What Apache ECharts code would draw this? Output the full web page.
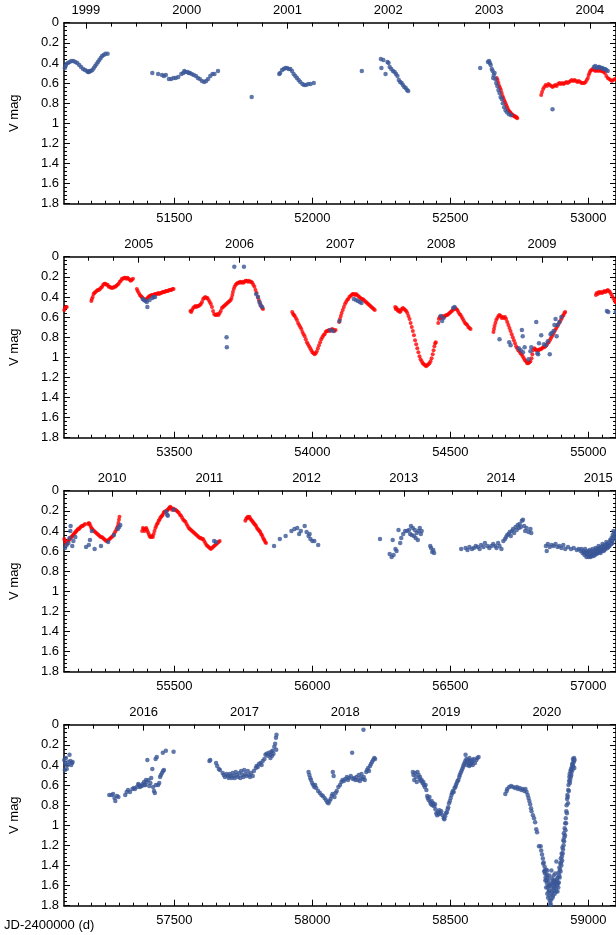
<!DOCTYPE html>
<html>
<head>
<meta charset="utf-8">
<script src="https://cdn.jsdelivr.net/npm/echarts@6/dist/echarts.min.js"></script>
<style>
  html, body { margin: 0; padding: 0; background: #ffffff; overflow: hidden; }
  #chart { width: 616px; height: 935px; }
</style>
</head>
<body>
<div id="chart"></div>
<script>
// ---- Light curve: V magnitude vs. JD-2400000, blue and red observation sets ----

// Panel windows (JD-2400000) and axis labelling
const panelStarts = [51100, 53100, 55100, 57100];
const panelSpan = 2000;
const jdTickLabels = [51500, 52000, 52500, 53000, 53500, 54000, 54500, 55000,
                      55500, 56000, 56500, 57000, 57500, 58000, 58500, 59000];
const magTicks = [0, 0.2, 0.4, 0.6, 0.8, 1, 1.2, 1.4, 1.6, 1.8];
const yearLabels = ['1999', '2000', '2001', '2002', '2003', '2004', '2005', '2006', '2007', '2008', '2009',
                    '2010', '2011', '2012', '2013', '2014', '2015', '2016', '2017', '2018', '2019', '2020'];
// Upper (calendar) axis extent of each panel, in decimal years
const yearAxisMin = [1998.783, 2004.259, 2009.505, 2015.210];
const yearAxisMax = [2004.259, 2009.735, 2015.182, 2020.686];

// ---- Blue observations [JD-2400000, V] ----
const blue1999 = [[51103,0.45],[51106,0.43],[51108,0.41],[51114,0.40],[51120,0.39],[51127,0.38],[51134,0.38],[51141,0.39],
  [51148,0.40],[51155,0.42],[51162,0.44],[51169,0.46],[51176,0.47],[51183,0.48],[51187,0.49],[51190,0.49],[51194,0.48],
  [51197,0.48],[51203,0.47],[51208,0.45],[51213,0.43],[51218,0.41],[51223,0.39],[51228,0.37],[51233,0.35],[51238,0.33],
  [51244,0.32],[51250,0.31],[51258,0.31]];
const blue2000 = [[51420,0.50],[51441,0.51],[51455,0.52],[51462,0.53],[51469,0.52],[51480,0.56],[51488,0.56],[51497,0.55],
  [51505,0.55],[51514,0.54],[51525,0.51],[51532,0.50],[51536,0.48],[51540,0.49],[51548,0.49],[51552,0.50],[51556,0.50],
  [51563,0.51],[51570,0.52],[51578,0.53],[51585,0.55],[51592,0.56],[51600,0.58],[51608,0.59],[51615,0.58],[51622,0.56],
  [51630,0.53],[51638,0.51],[51645,0.51],[51658,0.48],[51780,0.74]];
const blue2001 = [[51880,0.51],[51883,0.50],[51890,0.47],[51896,0.46],[51902,0.45],[51908,0.45],[51914,0.46],[51920,0.46],
  [51926,0.48],[51932,0.51],[51938,0.53],[51944,0.55],[51950,0.57],[51956,0.59],[51964,0.61],[51970,0.62],[51977,0.62],
  [51985,0.61],[51993,0.61],[52005,0.60]];
const blue2002 = [[52179,0.48],[52248,0.36],[52250,0.45],[52257,0.37],[52265,0.51],[52272,0.39],[52276,0.40],[52280,0.44],
  [52286,0.46],[52292,0.48],[52298,0.49],[52303,0.51],[52308,0.53],[52313,0.57],[52318,0.59],[52323,0.60],[52328,0.62],
  [52333,0.64],[52338,0.65],[52343,0.67],[52347,0.68]];
const blue2003 = [[52608,0.45],[52636,0.39],[52640,0.38],[52643,0.40],[52646,0.42],[52650,0.46],[52653,0.48],[52655,0.55],
  [52657,0.52],[52660,0.50],[52663,0.56],[52666,0.60],[52670,0.63],[52674,0.67],[52678,0.70],[52682,0.74],[52686,0.76],
  [52690,0.80],[52695,0.84],[52700,0.87],[52705,0.89],[52712,0.91],[52720,0.92],[52870,0.86]];
const blue2004 = [[53020,0.44],[53025,0.43],[53030,0.45],[53036,0.44],[53040,0.44],[53046,0.45],[53050,0.45],[53055,0.46],
  [53060,0.46],[53065,0.47],[53070,0.48]];
const blue2005 = [[53385,0.42],[53390,0.43],[53395,0.44],[53400,0.45],[53402,0.50],[53410,0.43],[53420,0.41],[53425,0.40],
  [53430,0.40]];
const blue2006 = [[53689,0.80],[53690,0.90],[53717,0.10],[53752,0.10],[53796,0.37],[53803,0.40],[53808,0.45],[53812,0.48],
  [53818,0.50],[54065,0.73],[54075,0.74]];
const blue2007 = [[54098,0.64],[54150,0.42],[54158,0.43],[54165,0.44],[54172,0.45],[54178,0.46]];
const blue2008 = [[54465,0.59],[54470,0.64],[54475,0.61],[54510,0.51],[54515,0.50],
  [54678,0.82],[54713,0.85],[54718,0.88],[54748,0.91],[54755,0.93],[54759,0.73],[54762,0.79],[54763,0.95],[54769,0.90],
  [54783,1.02],[54790,0.94],[54793,0.90],[54811,0.65],[54815,0.96],[54818,0.97],[54821,0.86],[54829,0.78],[54839,0.87],
  [54846,0.88],[54853,0.84],[54860,0.97],[54863,0.77],[54867,0.76],[54874,0.74],[54877,0.68],[54881,0.62],[54885,0.79],
  [54888,0.68],[54895,0.65],[54902,0.60]];
const blue2009 = [[55067,0.54],[55072,0.55]];
const blue2010 = [[55099,0.55],[55104,0.57],[55110,0.54],[55116,0.52],[55120,0.47],[55123,0.40],[55124,0.35],[55130,0.55],
  [55134,0.50],[55141,0.46],[55180,0.56],[55190,0.54],[55194,0.49],[55201,0.40],[55211,0.58],[55234,0.55],[55260,0.51],
  [55281,0.44],[55295,0.38],[55300,0.36],[55304,0.34],
  [55470,0.21],[55474,0.24],[55476,0.25],[55497,0.19],[55644,0.50],[55651,0.51]];
const blue2012 = [[55861,0.55],[55882,0.48],[55903,0.45],[55924,0.40],[55935,0.38],[55945,0.37],[55952,0.43],[55958,0.40],
  [55972,0.35],[55979,0.41],[55986,0.45],[55990,0.43],[55993,0.48],[56000,0.50],[56007,0.50],[56021,0.54]];
const blue2013 = [[56245,0.48],[56280,0.63],[56287,0.66],[56291,0.49],[56294,0.64],[56301,0.58],[56305,0.60],[56312,0.39],
  [56318,0.52],[56322,0.47],[56329,0.43],[56336,0.40],[56343,0.40],[56350,0.39],[56354,0.43],[56357,0.35],[56360,0.44],
  [56364,0.37],[56368,0.45],[56371,0.39],[56374,0.47],[56378,0.42],[56382,0.49],[56385,0.40],[56389,0.37],[56393,0.43],
  [56396,0.40],[56427,0.55],[56430,0.57],[56434,0.61],[56438,0.59],[56441,0.62]];
const blue2014 = [[56539,0.58],[56555,0.57],[56562,0.59],[56569,0.56],[56578,0.58],[56585,0.57],[56592,0.55],[56599,0.56],
  [56606,0.58],[56611,0.54],[56620,0.56],[56625,0.52],[56634,0.55],[56641,0.57],[56648,0.55],[56655,0.53],[56662,0.55],
  [56667,0.57],[56673,0.52],[56678,0.55],[56685,0.58],[56692,0.50],[56698,0.48],[56702,0.46],[56706,0.44],[56711,0.43],
  [56715,0.41],[56719,0.45],[56723,0.40],[56727,0.38],[56731,0.42],[56736,0.36],[56740,0.39],[56744,0.34],[56748,0.37],
  [56751,0.33],[56755,0.36],[56759,0.30],[56763,0.29],[56767,0.35],[56771,0.40],[56776,0.37],[56783,0.41],[56790,0.38],
  [56793,0.42]];
const blue2015 = [[56846,0.55],[56849,0.60],[56853,0.53],[56860,0.56],[56867,0.54],[56874,0.55],[56881,0.53],[56888,0.56],
  [56895,0.55],[56902,0.57],[56909,0.54],[56916,0.58],[56926,0.56],[56937,0.58],[56947,0.57],[56958,0.59],[56965,0.58],
  [56972,0.60],[56975,0.58],[56979,0.62],[56983,0.60],[56985,0.62],[56986,0.64],[56988,0.58],[56990,0.62],[56992,0.61],
  [56993,0.66],[56996,0.63],[56998,0.60],[57000,0.65],[57001,0.66],[57003,0.61],[57005,0.59],[57007,0.64],[57008,0.66],
  [57010,0.62],[57012,0.65],[57014,0.60],[57015,0.58],[57017,0.63],[57019,0.65],[57021,0.61],[57023,0.64],[57025,0.59],
  [57026,0.57],[57028,0.62],[57030,0.63],[57032,0.58],[57034,0.62],[57035,0.60],[57037,0.55],[57039,0.57],[57041,0.61],
  [57042,0.59],[57044,0.62],[57046,0.56],[57048,0.60],[57049,0.58],[57051,0.53],[57053,0.55],[57055,0.60],[57056,0.57],
  [57058,0.59],[57060,0.54],[57062,0.58],[57063,0.56],[57065,0.51],[57067,0.53],[57069,0.57],[57070,0.55],[57072,0.56],
  [57074,0.52],[57076,0.55],[57077,0.54],[57079,0.49],[57081,0.50],[57083,0.53],[57084,0.47],[57086,0.50],[57087,0.52],
  [57088,0.44],[57090,0.46],[57091,0.40],[57093,0.48],[57094,0.42],[57095,0.45],
  [57099,0.42],[57101,0.35],[57103,0.45],[57104,0.38],[57107,0.33],[57108,0.40],[57110,0.44],[57113,0.40],[57116,0.37],
  [57120,0.30],[57123,0.36],[57126,0.40],[57129,0.38],[57131,0.37]];
const blue2016 = [[57264,0.70],[57272,0.70],[57278,0.69],[57283,0.73],[57286,0.76],[57292,0.71],[57297,0.72],[57322,0.70],
  [57327,0.67],[57332,0.65],[57339,0.67],[57348,0.64],[57353,0.63],[57357,0.64],[57364,0.62],[57369,0.59],[57371,0.60],
  [57375,0.62],[57378,0.61],[57382,0.61],[57385,0.59],[57390,0.57],[57392,0.60],[57395,0.60],[57397,0.55],[57399,0.57],
  [57402,0.35],[57406,0.55],[57409,0.61],[57413,0.58],[57416,0.53],[57420,0.44],[57423,0.62],[57426,0.66],[57429,0.68],
  [57432,0.34],[57433,0.60],[57436,0.32],[57441,0.60],[57445,0.58],[57448,0.52],[57451,0.50],[57455,0.48],[57458,0.28],
  [57459,0.46],[57462,0.45],[57469,0.26],[57497,0.27]];
const blue2017 = [[57627,0.36],[57630,0.35],[57651,0.38],[57655,0.41],[57661,0.44],[57665,0.45],[57675,0.48],[57679,0.50],
  [57683,0.52],[57689,0.49],[57693,0.51],[57697,0.53],[57700,0.49],[57704,0.51],[57708,0.53],[57711,0.48],[57715,0.51],
  [57719,0.53],[57722,0.47],[57726,0.50],[57731,0.52],[57735,0.48],[57739,0.53],[57742,0.46],[57746,0.50],[57750,0.52],
  [57753,0.45],[57757,0.49],[57761,0.51],[57766,0.46],[57770,0.50],[57774,0.52],[57778,0.48],[57784,0.51],[57788,0.46],
  [57795,0.43],[57798,0.41],[57802,0.42],[57806,0.39],[57812,0.38],[57816,0.40],[57820,0.36],[57826,0.34],[57830,0.30],
  [57834,0.29],[57838,0.31],[57842,0.28],[57847,0.30],[57848,0.33],[57851,0.27],[57854,0.31],[57856,0.26],[57859,0.29],
  [57862,0.22],[57865,0.19],[57868,0.13],[57869,0.25],[57870,0.10]];
const blue2018 = [[57986,0.47],[57989,0.50],[57992,0.53],[57995,0.55],[57999,0.58],[58003,0.60],[58007,0.62],[58010,0.60],
  [58014,0.63],[58021,0.66],[58027,0.68],[58033,0.70],[58038,0.71],[58044,0.73],[58049,0.75],[58054,0.77],[58058,0.78],
  [58062,0.76],[58066,0.74],[58070,0.71],[58073,0.69],[58074,0.47],[58077,0.51],[58080,0.72],[58084,0.68],[58088,0.66],
  [58094,0.62],[58100,0.60],[58105,0.57],[58109,0.55],[58114,0.56],[58119,0.54],[58125,0.52],[58129,0.55],[58133,0.53],
  [58139,0.51],[58144,0.28],[58147,0.54],[58151,0.53],[58156,0.55],[58160,0.52],[58164,0.55],[58168,0.50],[58172,0.56],
  [58175,0.53],[58178,0.49],[58182,0.54],[58185,0.05],[58186,0.52],[58190,0.55],[58195,0.47],[58198,0.45],[58202,0.43],
  [58205,0.46],[58209,0.41],[58212,0.39],[58216,0.37],[58220,0.35],[58224,0.33],[58227,0.34]];
const blue2019 = [[58364,0.47],[58366,0.50],[58369,0.55],[58372,0.48],[58375,0.52],[58378,0.57],[58381,0.47],[58385,0.50],
  [58388,0.54],[58390,0.52],[58393,0.56],[58396,0.55],[58399,0.58],[58402,0.57],[58404,0.60],[58407,0.62],[58410,0.60],
  [58413,0.65],[58416,0.71],[58418,0.73],[58421,0.75],[58424,0.72],[58427,0.77],[58430,0.79],[58432,0.76],[58435,0.80],
  [58438,0.78],[58441,0.81],[58444,0.79],[58446,0.84],[58449,0.88],[58452,0.90],[58455,0.87],[58458,0.89],[58460,0.85],
  [58463,0.88],[58467,0.86],[58472,0.90],[58476,0.93],[58478,0.94],[58481,0.91],[58484,0.88],[58487,0.87],[58490,0.84],
  [58492,0.82],[58495,0.78],[58498,0.76],[58501,0.73],[58504,0.70],[58506,0.68],[58509,0.66],[58512,0.67],[58515,0.63],
  [58518,0.62],[58520,0.60],[58523,0.58],[58526,0.56],[58529,0.55],[58532,0.52],[58534,0.50],[58537,0.48],[58540,0.46],
  [58543,0.44],[58546,0.42],[58548,0.40],[58551,0.38],[58554,0.36],[58555,0.30],[58558,0.34],[58559,0.40],[58561,0.37],
  [58564,0.35],[58567,0.39],[58568,0.41],[58569,0.33],[58572,0.36],[58573,0.40],[58575,0.38],[58578,0.35],[58580,0.37],
  [58581,0.40],[58585,0.34],[58589,0.38],[58594,0.35],[58598,0.33],[58602,0.32]];
const blue2020 = [[58699,0.69],[58704,0.66],[58706,0.64],[58713,0.62],[58720,0.61],[58727,0.62],[58734,0.63],[58741,0.62],
  [58745,0.64],[58751,0.63],[58757,0.65],[58762,0.64],[58768,0.66],[58772,0.64],[58776,0.67],[58780,0.70],[58783,0.73],
  [58786,0.76],[58789,0.79],[58792,0.83],[58794,0.86],[58799,0.90],[58803,0.93],[58807,0.97],[58811,1.04],[58814,1.07],
  [58821,1.21],[58827,1.21],[58829,1.25],[58832,1.29],[58835,1.33],[58836,1.38],[58838,1.37],[58840,1.46],[58841,1.41],
  [58842,1.45],[58843,1.48],[58844,1.55],[58845,1.52],[58846,1.44],[58847,1.62],[58848,1.55],[58849,1.49],[58850,1.58],
  [58851,1.68],[58852,1.52],[58853,1.62],[58854,1.72],[58855,1.55],[58856,1.66],[58857,1.60],[58858,1.65],[58859,1.70],
  [58860,1.75],[58861,1.60],[58862,1.79],[58863,1.78],[58864,1.58],[58865,1.74],[58866,1.68],[58867,1.53],[58868,1.62],
  [58869,1.66],[58870,1.72],[58871,1.57],[58872,1.70],[58873,1.65],[58874,1.50],[58875,1.60],[58876,1.62],[58877,1.55],
  [58878,1.68],[58879,1.58],[58880,1.48],[58881,1.58],[58882,1.63],[58883,1.66],[58884,1.36],[58885,1.54],[58886,1.60],
  [58887,1.56],[58888,1.66],[58889,1.52],[58890,1.58],[58891,1.62],[58892,1.47],[58893,1.57],[58894,1.50],[58895,1.42],
  [58896,1.52],[58897,1.44],[58898,1.38],[58899,1.46],[58900,1.33],[58901,1.37],[58902,1.40],[58903,1.28],[58904,1.31],
  [58905,1.35],[58906,1.22],[58907,1.28],[58908,1.24],[58909,1.15],[58910,1.20],[58911,1.08],[58912,1.16],[58913,1.12],
  [58914,1.03],[58915,1.10],[58916,0.98],[58917,1.05],[58918,0.93],[58919,0.98],[58920,0.86],[58921,0.80],[58922,0.88],
  [58923,0.74],[58924,0.70],[58925,0.72],[58926,0.78],[58927,0.65],[58928,0.60],[58929,0.66],[58930,0.56],[58931,0.52],
  [58932,0.49],[58933,0.58],[58934,0.55],[58935,0.46],[58936,0.52],[58937,0.44],[58938,0.50],[58939,0.47],[58940,0.42],
  [58941,0.39],[58942,0.45],[58943,0.40],[58944,0.34],[58945,0.41],[58946,0.36],[58947,0.37],[58948,0.33],[58949,0.43],
  [58950,0.35],[58851,1.45],[58858,1.50],[58866,1.45],[58873,1.55]];

// ---- Red observations [JD-2400000, V] ----
const red2003 = [[52668,0.55],[52671,0.57],[52674,0.60],[52677,0.63],[52680,0.65],[52683,0.67],[52686,0.70],[52689,0.73],
  [52692,0.75],[52695,0.77],[52698,0.79],[52701,0.81],[52704,0.83],[52707,0.85],[52710,0.87],[52713,0.88],[52716,0.89],
  [52719,0.90],[52722,0.91],[52725,0.92],[52728,0.92],[52731,0.93],[52734,0.93],[52737,0.94],[52740,0.94],[52742,0.95]];
const red2004 = [[52829,0.72],[52832,0.69],[52836,0.66],[52840,0.64],[52845,0.62],[52850,0.63],[52855,0.61],[52860,0.62],
  [52865,0.63],[52870,0.64],[52875,0.63],[52880,0.62],[52885,0.63],[52890,0.61],[52895,0.60],[52900,0.61],[52905,0.60],
  [52910,0.61],[52915,0.60],[52920,0.59],[52925,0.60],[52930,0.59],[52935,0.58],[52940,0.57],[52945,0.58],[52950,0.57],
  [52955,0.58],[52960,0.59],[52965,0.58],[52970,0.59],[52975,0.60],[52980,0.60],[52985,0.60],[52990,0.59],[52994,0.57],
  [52998,0.55],[53001,0.52],[53004,0.50],[53007,0.48],[53011,0.47],[53015,0.46],[53020,0.47],[53025,0.48],[53030,0.47],
  [53035,0.48],[53040,0.47],[53045,0.48],[53050,0.48],[53055,0.49],[53060,0.50],[53065,0.53],[53070,0.55],[53075,0.56],
  [53080,0.57],[53085,0.58],[53090,0.57],[53096,0.56],
  [53101,0.53],[53104,0.51],[53107,0.50],[53110,0.50]];
const red2005 = [[53199,0.44],[53201,0.42],[53204,0.40],[53207,0.37],[53210,0.36],[53214,0.35],[53218,0.34],[53222,0.33],
  [53226,0.33],[53230,0.32],[53234,0.31],[53238,0.30],[53242,0.28],[53246,0.27],[53250,0.27],[53254,0.28],[53258,0.28],
  [53262,0.30],[53266,0.30],[53270,0.31],[53274,0.31],[53278,0.31],[53282,0.30],[53286,0.30],[53290,0.29],[53294,0.28],
  [53298,0.27],[53302,0.25],[53306,0.24],[53310,0.22],[53314,0.22],[53318,0.21],[53322,0.21],[53326,0.22],[53330,0.21],
  [53334,0.22],[53338,0.23],[53342,0.24],[53346,0.23],[53350,0.22],
  [53364,0.32],[53367,0.34],[53371,0.36],[53375,0.38],[53378,0.39],[53382,0.40],[53385,0.41],[53389,0.42],[53392,0.43],
  [53396,0.43],[53399,0.42],[53403,0.41],[53406,0.40],[53410,0.39],[53413,0.39],[53417,0.38],[53421,0.38],[53425,0.38],
  [53429,0.37],[53433,0.37],[53437,0.37],[53441,0.36],[53445,0.37],[53449,0.36],[53453,0.36],[53457,0.35],[53461,0.35],
  [53465,0.35],[53469,0.34],[53473,0.34],[53477,0.34],[53481,0.33],[53485,0.33],[53489,0.33],[53493,0.32],[53497,0.32]];
const red2006 = [[53558,0.54],[53561,0.55],[53564,0.53],[53568,0.51],[53572,0.50],[53576,0.49],[53580,0.50],[53584,0.49],
  [53588,0.49],[53592,0.48],[53596,0.47],[53600,0.45],[53604,0.42],[53608,0.41],[53612,0.40],[53616,0.41],[53620,0.41],
  [53624,0.43],[53628,0.45],[53632,0.47],[53636,0.50],[53640,0.54],[53644,0.57],[53648,0.58],[53652,0.58],[53656,0.57],
  [53660,0.58],[53664,0.56],[53668,0.54],[53672,0.51],[53676,0.50],[53680,0.49],[53684,0.48],[53688,0.47],[53692,0.46],
  [53696,0.45],[53700,0.44],[53704,0.43],[53707,0.41],[53710,0.38],[53712,0.35],[53715,0.32],[53718,0.30],[53722,0.28],
  [53726,0.27],[53730,0.26],[53734,0.26],[53738,0.25],[53742,0.26],[53746,0.25],[53750,0.26],[53754,0.25],[53758,0.24],
  [53762,0.24],[53766,0.25],[53770,0.24],[53774,0.25],[53778,0.25],[53782,0.26],[53786,0.28],[53790,0.30],[53794,0.33],
  [53798,0.36],[53802,0.40],[53806,0.43],[53810,0.46],[53814,0.49],[53818,0.51],[53821,0.52]];
const red2007 = [[53927,0.55],[53930,0.57],[53933,0.58],[53936,0.59],[53940,0.61],[53944,0.63],[53948,0.66],[53952,0.68],
  [53956,0.70],[53960,0.72],[53964,0.75],[53968,0.77],[53972,0.79],[53976,0.82],[53980,0.85],[53984,0.87],[53988,0.89],
  [53992,0.91],[53996,0.93],[54000,0.95],[54004,0.96],[54008,0.97],[54012,0.96],[54016,0.94],[54020,0.91],[54024,0.88],
  [54028,0.85],[54032,0.82],[54036,0.80],[54040,0.78],[54044,0.77],[54048,0.75],[54052,0.74],[54056,0.74],[54060,0.73],
  [54064,0.74],[54068,0.73],[54072,0.72],[54076,0.73],[54080,0.74],[54084,0.73],
  [54097,0.65],[54100,0.62],[54103,0.59],[54106,0.56],[54110,0.53],[54114,0.50],[54118,0.47],[54122,0.45],[54126,0.43],
  [54130,0.42],[54134,0.40],[54138,0.39],[54142,0.38],[54146,0.37],[54150,0.37],[54154,0.38],[54158,0.37],[54162,0.38],
  [54166,0.39],[54170,0.40],[54174,0.41],[54178,0.42],[54182,0.42],[54186,0.43],[54190,0.44],[54194,0.45],[54198,0.46],
  [54202,0.47],[54206,0.48],[54210,0.49],[54214,0.50],[54218,0.51],[54222,0.52],[54226,0.53]];
const red2008 = [[54300,0.50],[54302,0.52],[54305,0.51],[54308,0.53],[54311,0.54],[54314,0.53],[54317,0.55],[54320,0.54],
  [54324,0.52],[54328,0.51],[54332,0.52],[54336,0.53],[54340,0.54],[54344,0.56],[54348,0.59],[54352,0.62],[54356,0.66],
  [54360,0.70],[54364,0.74],[54368,0.78],[54372,0.83],[54376,0.87],[54380,0.91],[54384,0.95],[54388,0.99],[54392,1.02],
  [54396,1.04],[54400,1.06],[54404,1.07],[54408,1.08],[54412,1.09],[54416,1.08],[54420,1.07],[54424,1.06],[54428,1.04],
  [54432,1.01],[54436,0.97],[54439,0.93],[54442,0.89],[54445,0.86],[54447,0.85],
  [54456,0.66],[54458,0.62],[54461,0.60],[54465,0.61],[54469,0.60],[54473,0.59],[54477,0.60],[54481,0.59],[54485,0.58],
  [54489,0.58],[54493,0.57],[54497,0.56],[54501,0.55],[54505,0.54],[54509,0.53],[54513,0.52],[54517,0.51],[54521,0.52],
  [54525,0.53],[54529,0.55],[54533,0.57],[54537,0.58],[54541,0.60],[54545,0.62],[54549,0.64],[54553,0.66],[54557,0.67],
  [54561,0.68],[54565,0.70],[54569,0.71],[54573,0.72]];
const red2009 = [[54656,0.75],[54658,0.72],[54660,0.69],[54663,0.66],[54666,0.63],[54670,0.61],[54674,0.59],[54678,0.58],
  [54682,0.59],[54686,0.61],[54690,0.60],[54694,0.61],[54698,0.60],[54702,0.62],[54706,0.65],[54710,0.68],[54714,0.71],
  [54718,0.74],[54722,0.77],[54726,0.80],[54730,0.83],[54734,0.86],[54738,0.89],[54742,0.91],[54746,0.93],[54750,0.94],
  [54754,0.96],[54758,0.97],[54762,0.99],[54766,1.01],[54770,1.03],[54774,1.04],[54778,1.06],[54782,1.06],[54786,1.05],
  [54790,1.04],[54794,1.01],[54797,0.97],[54800,0.93],[54804,0.91],[54808,0.92],[54812,0.93],[54816,0.93],[54820,0.93],
  [54824,0.92],[54828,0.92],[54832,0.91],[54836,0.90],[54840,0.90],[54844,0.89],[54848,0.88],[54852,0.86],[54856,0.85],
  [54860,0.83],[54864,0.81],[54868,0.79],[54872,0.77],[54876,0.75],[54880,0.73],[54884,0.71],[54888,0.69],[54892,0.67],
  [54896,0.65],[54900,0.63],[54904,0.61],[54907,0.59],[54910,0.58],[54913,0.56],[54916,0.55],
  [55027,0.38],[55030,0.36],[55034,0.37],[55038,0.35],[55042,0.36],[55046,0.35],[55050,0.36],[55054,0.35],[55058,0.34],
  [55062,0.35],[55066,0.34],[55070,0.33],[55074,0.34],[55078,0.35],[55082,0.37],[55086,0.39],[55090,0.41],[55094,0.43],
  [55098,0.45]];
const red2010 = [[55099,0.45],[55101,0.48],[55103,0.50],[55106,0.52],[55109,0.53],[55112,0.51],[55115,0.50],[55118,0.49],
  [55121,0.48],[55124,0.47],[55127,0.46],[55130,0.45],[55133,0.44],[55136,0.43],[55139,0.42],[55142,0.41],[55145,0.40],
  [55148,0.39],[55151,0.38],[55154,0.38],[55157,0.37],[55160,0.36],[55164,0.35],[55168,0.35],[55172,0.34],[55176,0.33],
  [55187,0.33],[55190,0.32],[55193,0.33],[55196,0.35],[55199,0.37],[55202,0.38],[55205,0.39],[55209,0.40],[55213,0.41],
  [55217,0.42],[55221,0.43],[55225,0.44],[55229,0.45],[55233,0.46],[55237,0.46],[55241,0.47],[55245,0.48],[55249,0.49],
  [55253,0.50],[55257,0.50],[55261,0.49],[55265,0.48],[55269,0.47],[55273,0.46],[55277,0.45],[55281,0.43],[55285,0.41],
  [55289,0.39],[55292,0.37],[55295,0.35],[55297,0.32],[55299,0.29],[55301,0.26]];
const red2011 = [[55383,0.40],[55386,0.37],[55389,0.38],[55392,0.40],[55395,0.38],[55398,0.37],[55401,0.39],[55404,0.41],
  [55407,0.43],[55410,0.45],[55413,0.46],[55416,0.46],[55419,0.45],[55422,0.46],[55425,0.43],[55428,0.40],[55431,0.37],
  [55434,0.35],[55437,0.33],[55440,0.32],[55443,0.30],[55446,0.29],[55449,0.27],[55452,0.26],[55455,0.25],[55458,0.24],
  [55461,0.22],[55464,0.21],[55467,0.21],[55470,0.20],[55473,0.20],[55476,0.19],[55479,0.18],[55482,0.17],[55485,0.16],
  [55488,0.17],[55491,0.19],[55494,0.18],[55497,0.18],[55500,0.19],[55504,0.19],[55508,0.20],[55512,0.21],[55516,0.22],
  [55520,0.24],[55524,0.25],[55528,0.27],[55532,0.29],[55536,0.30],[55540,0.31],[55544,0.33],[55548,0.35],[55552,0.37],
  [55556,0.38],[55560,0.39],[55564,0.40],[55568,0.41],[55572,0.42],[55576,0.43],[55580,0.44],[55584,0.45],[55588,0.46],
  [55592,0.47],[55596,0.47],[55600,0.48],[55604,0.48],[55608,0.50],[55612,0.52],[55616,0.54],[55620,0.55],[55624,0.56],
  [55628,0.57],[55632,0.58],[55636,0.57],[55640,0.56],[55644,0.55],[55648,0.54],[55652,0.53],[55656,0.52],[55660,0.51],
  [55664,0.50],
  [55757,0.30],[55760,0.28],[55763,0.27],[55766,0.26],[55769,0.27],[55772,0.26],[55775,0.28],[55778,0.29],[55781,0.30],
  [55784,0.31],[55787,0.32],[55790,0.33],[55793,0.34],[55796,0.35],[55799,0.37],[55802,0.38],[55805,0.39],[55808,0.40],
  [55811,0.41],[55814,0.43],[55817,0.44],[55820,0.46],[55823,0.48],[55826,0.49],[55829,0.51],[55832,0.52]];

const bluePoints = [].concat(blue1999, blue2000, blue2001, blue2002, blue2003, blue2004, blue2005, blue2006,
  blue2007, blue2008, blue2009, blue2010, blue2012, blue2013, blue2014, blue2015, blue2016, blue2017, blue2018,
  blue2019, blue2020);
const redPoints = [].concat(red2003, red2004, red2005, red2006, red2007, red2008, red2009, red2010, red2011);

// ---- Layout ----
const FONT = 'Liberation Sans, Arial, Helvetica, sans-serif';
const INK = '#000000';
const BLUE = '#3a5696';
const RED = '#ff0000';
const gridTops = [22.7, 256.7, 490.7, 724.7];
const gridLeft = 55, gridWidth = 562, gridHeight = 181;

const grids = [], xAxes = [], yAxes = [], series = [];

panelStarts.forEach((x0, i) => {
  const x1 = x0 + panelSpan;
  const y0 = yearAxisMin[i], y1 = yearAxisMax[i];
  grids.push({ left: gridLeft, top: gridTops[i], width: gridWidth, height: gridHeight });

  const minorTicks = [];
  for (let v = x0 + 50; v < x1; v += 50) minorTicks.push(v);
  const majors = jdTickLabels.filter(v => v > x0 && v < x1);
  const yrs = yearLabels.map(Number).filter(v => v > y0 && v < y1);
  const qtrs = [];
  yearLabels.map(Number).concat([1998]).forEach(y => [0.25, 0.5, 0.75].forEach(q => {
    if (y + q > y0 && y + q < y1) qtrs.push(y + q);
  }));

  const jdBase = { type: 'value', gridIndex: i, min: x0, max: x1, splitLine: { show: false } };
  const yrBase = { type: 'value', gridIndex: i, min: y0, max: y1, splitLine: { show: false } };
  // bottom axis: labelled JD ticks (carries the data)
  xAxes.push(Object.assign({}, jdBase, {
    position: 'bottom',
    axisLine: { show: true, onZero: false, lineStyle: { color: INK, width: 1.5 } },
    axisTick: { show: true, inside: true, length: 6, customValues: majors, lineStyle: { color: INK, width: 1 } },
    axisLabel: { show: true, customValues: majors, margin: 8, color: INK, fontSize: 13, fontFamily: FONT,
                 formatter: v => String(Math.round(v)) }
  }));
  // bottom axis: 50-day minor ticks
  xAxes.push(Object.assign({}, jdBase, {
    position: 'bottom',
    axisLine: { show: false, onZero: false },
    axisTick: { show: true, inside: true, length: 3, customValues: minorTicks, lineStyle: { color: INK, width: 1 } },
    axisLabel: { show: false }
  }));
  // top axis: calendar years
  xAxes.push(Object.assign({}, yrBase, {
    position: 'top',
    axisLine: { show: true, onZero: false, lineStyle: { color: INK, width: 1.5 } },
    axisTick: { show: true, inside: true, length: 6, customValues: yrs, lineStyle: { color: INK, width: 1 } },
    axisLabel: { show: true, customValues: yrs, margin: 6, color: INK, fontSize: 13, fontFamily: FONT,
                 formatter: v => String(Math.round(v)) }
  }));
  // top axis: quarter-year ticks
  xAxes.push(Object.assign({}, yrBase, {
    position: 'top',
    axisLine: { show: false, onZero: false },
    axisTick: { show: true, inside: true, length: 4, customValues: qtrs, lineStyle: { color: INK, width: 1 } },
    axisLabel: { show: false }
  }));

  const yBase = {
    type: 'value', gridIndex: i, min: magTicks[0], max: magTicks[magTicks.length - 1], interval: 0.2, inverse: true,
    splitLine: { show: false }, minorSplitLine: { show: false },
    axisLine: { show: true, onZero: false, lineStyle: { color: INK, width: 1.5 } },
    axisTick: { show: true, inside: true, length: 6, lineStyle: { color: INK, width: 1 } },
    minorTick: { show: true, splitNumber: 5, length: 3, lineStyle: { color: INK, width: 1 } }
  };
  yAxes.push(Object.assign({}, yBase, {
    position: 'left',
    name: 'V mag', nameLocation: 'middle', nameGap: 43, nameRotate: 90,
    nameTextStyle: { color: INK, fontSize: 13, fontFamily: FONT },
    axisLabel: { show: true, margin: 5, color: INK, fontSize: 13, fontFamily: FONT,
                 formatter: v => String(parseFloat(Number(v).toFixed(2))) }
  }));
  yAxes.push(Object.assign({}, yBase, { position: 'right', axisLabel: { show: false } }));

  const xi = i * 4, yi = i * 2;
  series.push({
    type: 'scatter', xAxisIndex: xi, yAxisIndex: yi, clip: true,
    symbol: 'circle', symbolSize: 4, itemStyle: { color: RED },
    silent: true, animation: false,
    data: redPoints.filter(p => p[0] >= x0 && p[0] <= x1)
  });
  series.push({
    type: 'scatter', xAxisIndex: xi, yAxisIndex: yi, clip: true,
    symbol: 'circle', symbolSize: 4.5, itemStyle: { color: BLUE },
    silent: true, animation: false,
    data: bluePoints.filter(p => p[0] >= x0 && p[0] <= x1)
  });
});

const chart = echarts.init(document.getElementById('chart'), null, { renderer: 'canvas' });
chart.setOption({
  backgroundColor: '#ffffff',
  animation: false,
  grid: grids,
  xAxis: xAxes,
  yAxis: yAxes,
  series: series,
  graphic: [{
    type: 'text', left: 4, top: 919,
    style: { text: 'JD-2400000 (d)', fill: INK, font: '13px ' + FONT }
  }]
});
</script>
</body>
</html>
